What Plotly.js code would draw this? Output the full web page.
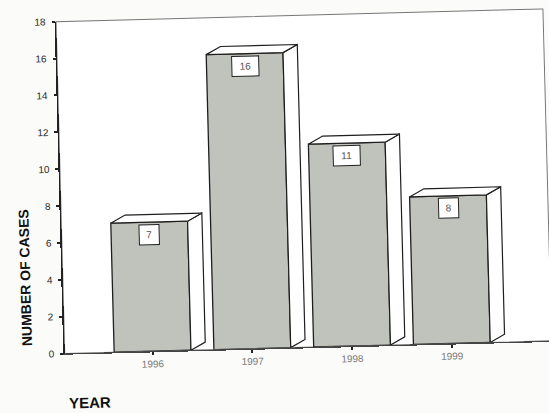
<!DOCTYPE html>
<html>
<head>
<meta charset="utf-8">
<script src="https://cdn.plot.ly/plotly-3.0.1.min.js"></script>
<style>
  html, body { margin: 0; padding: 0; background: #fbfbf9; overflow: hidden; }
  #chart { width: 549px; height: 413px; transform: rotate(-1.5deg); transform-origin: 50% 50%; }
</style>
</head>
<body>
<div id="chart"></div>
<script>
// Cases per year
const years = ['1996', '1997', '1998', '1999'];
const cases = [7, 16, 11, 8];
const yTickVals = [0, 2, 4, 6, 8, 10, 12, 14, 16, 18];

// Block geometry (data units)
const halfW = 0.385;   // half width of the front face
const depthX = 0.145;  // horizontal depth of the block
const depthY = 0.42;   // vertical depth of the block

const pos = years.map((_, i) => i);

// Top and side faces built from each value, separated by gaps
const topX = [], topY = [], sideX = [], sideY = [];
pos.forEach((p, i) => {
  const v = cases[i];
  topX.push(p - halfW, p - halfW + depthX, p + halfW + depthX, p + halfW, p - halfW, null);
  topY.push(v, v + depthY, v + depthY, v, v, null);
  sideX.push(p + halfW, p + halfW + depthX, p + halfW + depthX, p + halfW, p + halfW, null);
  sideY.push(v, v + depthY, depthY, 0, v, null);
});

const frontFace = {
  type: 'bar',
  x: pos,
  y: cases,
  width: 0.77,
  marker: {
    color: '#c0c3bc',
    line: { color: '#1e1e1e', width: 1.3 }
  },
  hoverinfo: 'skip'
};
const faceStyle = {
  type: 'scatter',
  mode: 'lines',
  fill: 'toself',
  fillcolor: '#ffffff',
  line: { color: '#1e1e1e', width: 1.2 },
  connectgaps: false,
  hoverinfo: 'skip'
};
const sideFace = Object.assign({}, faceStyle, { x: sideX, y: sideY });
const topFace = Object.assign({}, faceStyle, { x: topX, y: topY });

// Value boxes at the top of each front face
const valueBoxes = cases.map((v, i) => {
  const t = String(v);
  return {
    x: pos[i], y: v, xref: 'x', yref: 'y',
    text: t, showarrow: false,
    xanchor: 'center', yanchor: 'top', yshift: -2,
    font: { family: 'Liberation Sans, Arial, sans-serif', size: 10, color: '#555' },
    bgcolor: '#ffffff', bordercolor: '#222', borderwidth: 1, borderpad: 1,
    width: t.length * 7 + 10, height: 17
  };
});

const layout = {
  width: 549,
  height: 413,
  margin: { l: 61, r: 1, t: 16, b: 65 },
  paper_bgcolor: '#fbfbf9',
  plot_bgcolor: '#ffffff',
  showlegend: false,
  font: { family: 'Liberation Sans, Arial, sans-serif', color: '#333' },
  xaxis: {
    range: [-0.88, 4.0],
    tickvals: pos,
    ticktext: years,
    ticks: 'outside', ticklen: 3, tickwidth: 2, tickcolor: '#222',
    tickfont: { size: 10, color: '#7a7a7a' },
    showgrid: false, zeroline: false,
    showline: true, linecolor: '#444', linewidth: 1.2,
    fixedrange: true
  },
  yaxis: {
    range: [0, 18],
    tickvals: yTickVals,
    ticktext: yTickVals.map(String),
    ticks: 'outside', ticklen: 3, tickwidth: 2, tickcolor: '#222',
    ticklabelstandoff: 4,
    tickfont: { size: 10, color: '#2a2a2a' },
    showgrid: false, zeroline: false,
    showline: true, linecolor: '#222', linewidth: 1.5,
    fixedrange: true
  },
  shapes: [
    { type: 'rect', xref: 'paper', yref: 'paper', x0: 0, x1: 1, y0: 0, y1: 1,
      line: { color: '#777', width: 1 }, layer: 'below' }
  ],
  annotations: valueBoxes.concat([
    { xref: 'paper', yref: 'paper', x: -0.078, y: 0.23, textangle: -90,
      text: 'NUMBER OF CASES', showarrow: false, xanchor: 'center', yanchor: 'middle',
      font: { size: 14, color: '#111', weight: 'bold' } },
    { xref: 'paper', yref: 'paper', x: 0.049, y: -0.15,
      text: 'YEAR', showarrow: false, xanchor: 'center', yanchor: 'middle',
      font: { size: 15, color: '#111', weight: 'bold' } }
  ])
};

Plotly.newPlot('chart', [frontFace, sideFace, topFace], layout, { displayModeBar: false, staticPlot: true });
</script>
</body>
</html>
